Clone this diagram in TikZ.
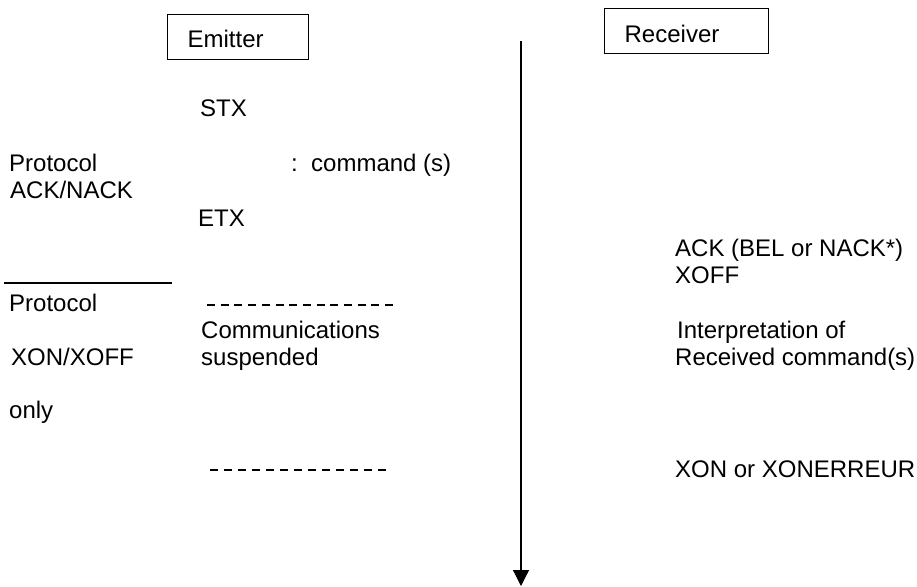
\documentclass[tikz,border=0pt]{standalone}
\usepackage{fontspec}
\setmainfont{Liberation Sans}
\usetikzlibrary{arrows.meta}
\begin{document}
\begin{tikzpicture}[x=1pt,y=-1pt,
  every node/.style={inner sep=0pt,font=\fontsize{24}{27}\selectfont},
  lbl/.style={anchor=base west},
  partybox/.style={draw,line width=1.3pt,anchor=north west,inner xsep=20pt,
    minimum height=45pt,align=left,text depth=0pt},
  rule/.style={line width=1.3pt},
  gap/.style={line width=1.8pt}]
\useasboundingbox (0,0) rectangle (917,586);

% parties
\node[partybox,text width=101pt,text height=21pt] (emit) at (167,14) {Emitter};
\node[partybox,text width=124pt,text height=23pt] (recv) at (604,8) {Receiver};

% time axis
\coordinate (tstart) at (521,41);
\coordinate (tend) at (521,586);
\draw[line width=1.2pt,-{Triangle[width=16pt,length=16pt]}] (tstart) -- (tend);

% ACK/NACK protocol
\node[lbl] (stx) at (200,116) {STX};
\node[lbl] (p1a) at (9,171) {Protocol};
\node[lbl] (p1b) at (10,198) {ACK/NACK};
\node[lbl] (cmd) at (291,171) {:\ \ command (s)};
\node[lbl] (etx) at (198,226) {ETX};
\node[lbl] (ack) at (675,256) {ACK (BEL or NACK*)};
\node[lbl] (xoff) at (675,283) {XOFF};

% XON/XOFF protocol
\coordinate (sepa) at (4,283);
\coordinate (sepb) at (172,283);
\draw[rule] (sepa) -- (sepb);
\node[lbl] (p2a) at (9,311) {Protocol};
\node[lbl] (p2b) at (11,365) {XON/XOFF};
\node[lbl] (p2c) at (9,418) {only};

\coordinate (d1a) at (207,305);
\coordinate (d1b) at (395,305);
\draw[gap,dash pattern=on 8pt off 5.7pt] (d1a) -- (d1b);
\node[lbl] (comm) at (201,338) {Communications};
\node[lbl] (susp) at (201,365) {suspended};

\node[lbl] (interp) at (677,338) {Interpretation of};
\node[lbl] (rcmd) at (675,365) {Received command(s)};

\coordinate (d2a) at (210,470);
\coordinate (d2b) at (388,470);
\draw[gap,dash pattern=on 8pt off 6pt] (d2a) -- (d2b);
\node[lbl] (xon) at (675,477) {XON or XONERREUR};
\end{tikzpicture}
\end{document}
